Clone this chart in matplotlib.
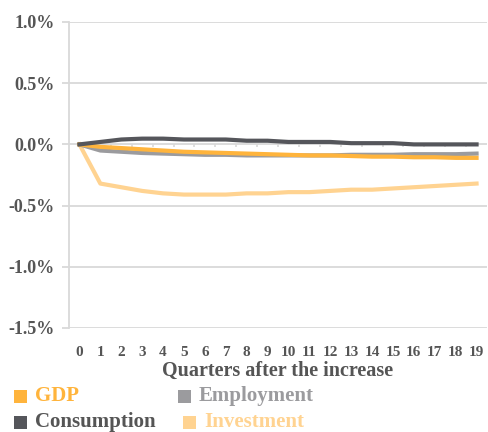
import matplotlib
matplotlib.use("Agg")
import matplotlib.pyplot as plt
from matplotlib.patches import Rectangle

plt.rcParams['font.family'] = ['Liberation Serif', 'DejaVu Serif']

quarters = list(range(20))
gdp = [0.0, -0.02, -0.03, -0.04, -0.05, -0.06, -0.065, -0.07, -0.075, -0.08,
       -0.085, -0.09, -0.09, -0.095, -0.10, -0.10, -0.105, -0.105, -0.11, -0.11]
employment = [0.0, -0.05, -0.06, -0.07, -0.075, -0.08, -0.085, -0.085, -0.09, -0.09,
              -0.09, -0.09, -0.09, -0.085, -0.085, -0.085, -0.08, -0.08, -0.08, -0.075]
consumption = [0.0, 0.02, 0.04, 0.047, 0.047, 0.04, 0.04, 0.04, 0.03, 0.03,
               0.02, 0.02, 0.02, 0.01, 0.01, 0.01, 0.0, 0.0, 0.0, 0.0]
investment = [0.0, -0.32, -0.35, -0.38, -0.40, -0.41, -0.41, -0.41, -0.40, -0.40,
              -0.39, -0.39, -0.38, -0.37, -0.37, -0.36, -0.35, -0.34, -0.33, -0.32]

yticks = [1.0, 0.5, 0.0, -0.5, -1.0, -1.5]

c_gdp = '#FFB43C'
c_emp = '#9B9B9E'
c_con = '#55565B'
c_inv = '#FFD391'
grid_c = '#D9D9D9'
text_c = '#555555'

fig = plt.figure(figsize=(4.88, 4.32), dpi=100)
ax = fig.add_axes([69/488, 104/432, 418/488, 306/432])

ax.set_xlim(-0.5, 19.5)
ax.set_ylim(-1.5, 1.0)

for v in yticks:
    ax.axhline(v, color=grid_c, lw=1.3, zorder=0 if v != 0 else 1)

# category boundary ticks on the zero line
for b in range(1, 20):
    ax.plot([b - 0.5, b - 0.5], [0, -0.025], color=grid_c, lw=1.2, zorder=1,
            solid_capstyle='butt')

ax.plot(quarters, investment, color=c_inv, lw=3, zorder=3, solid_joinstyle='round')
ax.plot(quarters, employment, color=c_emp, lw=3, zorder=3, solid_joinstyle='round')
ax.plot(quarters, gdp, color=c_gdp, lw=3, zorder=4, solid_joinstyle='round')
ax.plot(quarters, consumption, color=c_con, lw=3, zorder=5, solid_joinstyle='round')

for s in ['top', 'right', 'bottom']:
    ax.spines[s].set_visible(False)
ax.spines['left'].set_color(grid_c)
ax.spines['left'].set_linewidth(1.3)

ax.set_yticks(yticks)
ax.set_yticklabels([f"{v:.1f}%" for v in yticks], fontsize=13,
                   fontweight='bold', color=text_c)
ax.tick_params(axis='y', length=5, width=1.3, color=grid_c, pad=5)

ax.set_xticks(quarters)
ax.set_xticklabels([str(q) for q in quarters], fontsize=11,
                   fontweight='bold', color=text_c)
ax.tick_params(axis='x', length=0, pad=13)

ax.set_xlabel('Quarters after the increase', fontsize=14.5, fontweight='bold',
              color=text_c, labelpad=1)

# legend drawn in figure pixels
W, H = 488, 432
legend_items = [
    ('GDP', c_gdp, c_gdp, 14, 396),
    ('Employment', c_emp, c_emp, 178, 396),
    ('Consumption', c_con, text_c, 14, 422),
    ('Investment', c_inv, c_inv, 183, 422),
]
sq = 13
for label, col, tcol, x, y in legend_items:
    fig.add_artist(Rectangle((x / W, (H - y - sq / 2) / H), sq / W, sq / H,
                             transform=fig.transFigure, color=col, lw=0))
    fig.text((x + sq + 8) / W, (H - y) / H, label, color=tcol,
             fontsize=15, fontweight='bold', va='center', ha='left')

fig.savefig('out.png', dpi=100)
